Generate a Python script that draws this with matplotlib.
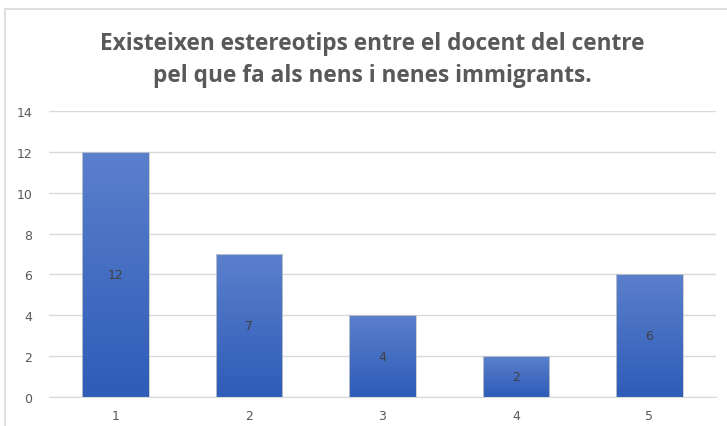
import numpy as np
import matplotlib.pyplot as plt
from matplotlib.patches import Rectangle
from matplotlib.colors import LinearSegmentedColormap

# data
categories = ["1", "2", "3", "4", "5"]
values = [12, 7, 4, 2, 6]
title = "Existeixen estereotips entre el docent del centre\npel que fa als nens i nenes immigrants."

fig = plt.figure(figsize=(7.27, 4.27), dpi=100)
ax = fig.add_axes([49 / 727, 1 - 398 / 427, 667 / 727, 286 / 427])

# chart border
fig.patches.append(Rectangle((5 / 727, -0.05), 1.0, 1 - 10 / 427 + 0.05,
                             transform=fig.transFigure, fill=False,
                             edgecolor="#d9d9d9", linewidth=1.2))

x = np.arange(len(categories))
bars = ax.bar(x, values, width=0.5, color="none", edgecolor="#c8c8c8",
              linewidth=0.6, zorder=3)

cmap = LinearSegmentedColormap.from_list("grad", ["#2e5cb8", "#5b80cc"])
grad = np.linspace(0, 1, 256).reshape(-1, 1)
for b, v in zip(bars, values):
    im = ax.imshow(grad, cmap=cmap, origin="lower", aspect="auto",
                   extent=[b.get_x(), b.get_x() + b.get_width(), 0, v],
                   zorder=2)
    im.set_clip_path(b)
    ax.text(b.get_x() + b.get_width() / 2, v / 2, str(v), ha="center",
            va="center", fontsize=9, color="#404040", zorder=4)

ax.set_xlim(-0.5, len(categories) - 0.5)
ax.set_ylim(0, 14)
ax.set_yticks(range(0, 15, 2))
ax.set_xticks(x)
ax.set_xticklabels(categories)
ax.grid(axis="y", color="#d9d9d9", linewidth=1)
ax.set_axisbelow(True)
for s in ["top", "right", "left"]:
    ax.spines[s].set_visible(False)
ax.spines["bottom"].set_color("#d9d9d9")
ax.tick_params(length=0, colors="#595959", labelsize=9)
ax.tick_params(axis="y", pad=12)
ax.tick_params(axis="x", pad=9)

fig.text(372 / 727, 1 - 60 / 427, title, ha="center", va="center",
         fontsize=16.3, fontweight="bold", color="#595959",
         linespacing=1.4, family="Open Sans")

fig.savefig("out.png", dpi=100)
